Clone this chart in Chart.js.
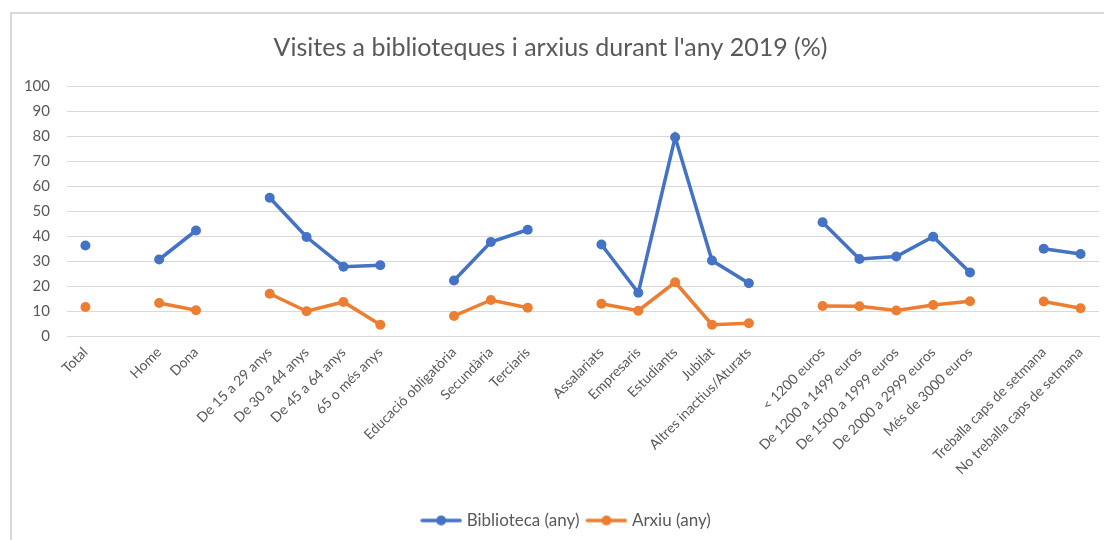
<!DOCTYPE html>
<html>
<head>
<meta charset="utf-8">
<script src="https://cdn.jsdelivr.net/npm/chart.js@4/dist/chart.umd.min.js"></script>
<style>
  html, body { margin: 0; padding: 0; background: #fff; }
  #wrap { position: relative; width: 1104px; height: 540px; overflow: hidden; }
  #frame { position: absolute; left: 10px; top: 12px; width: 1200px; height: 600px;
           border-left: 2px solid #d9d9d9; border-top: 2px solid #d9d9d9; }
  #chart { position: absolute; left: 0; top: 0; }
</style>
</head>
<body>
<div id="wrap">
  <div id="frame"></div>
  <canvas id="chart" width="1104" height="540"></canvas>
</div>
<script>
// categories (empty strings are the gaps between groups)
var categories = [
  'Total', '',
  'Home', 'Dona', '',
  'De 15 a 29 anys', 'De 30 a 44 anys', 'De 45 a 64 anys', '65 o més anys', '',
  'Educació obligatòria', 'Secundària', 'Terciaris', '',
  'Assalariats', 'Empresaris', 'Estudiants', 'Jubilat', 'Altres inactius/Aturats', '',
  '< 1200 euros', 'De 1200 a 1499 euros', 'De 1500 a 1999 euros', 'De 2000 a 2999 euros', 'Més de 3000 euros', '',
  'Treballa caps de setmana', 'No treballa caps de setmana'
]

var biblioteca = [
  36.2, null,
  30.6, 42.2, null,
  55.3, 39.6, 27.7, 28.3, null,
  22.2, 37.6, 42.5, null,
  36.6, 17.3, 79.5, 30.2, 21.1, null,
  45.5, 30.8, 31.8, 39.7, 25.4, null,
  34.9, 32.8
]

var arxiu = [
  11.6, null,
  13.2, 10.3, null,
  16.9, 9.9, 13.6, 4.5, null,
  8.0, 14.4, 11.3, null,
  12.9, 10.1, 21.5, 4.5, 5.1, null,
  12.0, 11.9, 10.2, 12.4, 13.9, null,
  13.8, 11.1
]

var yTicks = [0, 10, 20, 30, 40, 50, 60, 70, 80, 90, 100]

var blue = '#4472C4'
var orange = '#ED7D31'
var gray = '#595959'
var font = 'Lato, "Open Sans", sans-serif'

// little line+dot images for the legend
function legendMark(color){
    var c = document.createElement('canvas')
    c.width = 42
    c.height = 12
    var g = c.getContext('2d')
    g.strokeStyle = color
    g.lineWidth = 3.5
    g.lineCap = 'round'
    g.beginPath()
    g.moveTo(2, 6)
    g.lineTo(40, 6)
    g.stroke()
    g.fillStyle = color
    g.beginPath()
    g.arc(21, 6, 5, 0, Math.PI * 2)
    g.fill()
    return c
}

var marks = [legendMark(blue), legendMark(orange)]

// nudge the legend to the right, like the original
var shiftLegend = {
    id: 'shiftLegend',
    afterLayout: function(chart){
        var lg = chart.legend
        if (lg) { lg.left += 17; lg.right += 17 }
    }
}

var ctx = document.getElementById('chart').getContext('2d')

var chart = new Chart(ctx, {
    type: 'line',
    data: {
        labels: categories,
        datasets: [
            {
                label: 'Biblioteca (any)',
                data: biblioteca,
                borderColor: blue,
                backgroundColor: blue,
                borderWidth: 3.5,
                pointRadius: 5,
                pointHoverRadius: 5,
                pointBorderWidth: 0,
                tension: 0
            },
            {
                label: 'Arxiu (any)',
                data: arxiu,
                borderColor: orange,
                backgroundColor: orange,
                borderWidth: 3.5,
                pointRadius: 5,
                pointHoverRadius: 5,
                pointBorderWidth: 0,
                tension: 0
            }
        ]
    },
    options: {
        responsive: false,
        animation: false,
        layout: { padding: { top: 0, left: 0, right: 3, bottom: 1 } },
        plugins: {
            title: {
                display: true,
                text: "Visites a biblioteques i arxius durant l'any 2019 (%)",
                color: gray,
                font: { family: font, size: 25, weight: 'normal', lineHeight: 1.2 },
                padding: { top: 33, bottom: 23 }
            },
            legend: {
                position: 'bottom',
                labels: {
                    color: gray,
                    font: { family: font, size: 17 },
                    usePointStyle: true,
                    pointStyleWidth: 34,
                    padding: 10,
                    generateLabels: function(chart){
                        return chart.data.datasets.map(function(ds, i){
                            return {
                                text: ds.label,
                                fillStyle: ds.borderColor,
                                strokeStyle: ds.borderColor,
                                pointStyle: marks[i],
                                fontColor: gray,
                                lineWidth: 0,
                                datasetIndex: i
                            }
                        })
                    }
                }
            },
            tooltip: { enabled: false }
        },
        scales: {
            x: {
                offset: true,
                grid: { display: false, drawTicks: false },
                border: { display: true, color: '#d9d9d9', width: 1 },
                ticks: {
                    autoSkip: false,
                    maxRotation: 45,
                    minRotation: 45,
                    padding: 8,
                    color: gray,
                    font: { family: font, size: 14 }
                },
                afterFit: function(scale){ scale.height = 166 }
            },
            y: {
                min: 0,
                max: 100,
                afterBuildTicks: function(scale){
                    scale.ticks = yTicks.map(function(v){ return { value: v } })
                },
                grid: { color: '#d9d9d9', lineWidth: 1, drawTicks: false },
                border: { display: false },
                ticks: {
                    padding: 17,
                    color: gray,
                    font: { family: font, size: 15 }
                },
                afterFit: function(scale){ scale.width = 67 }
            }
        }
    },
    plugins: [shiftLegend]
})
</script>
</body>
</html>
